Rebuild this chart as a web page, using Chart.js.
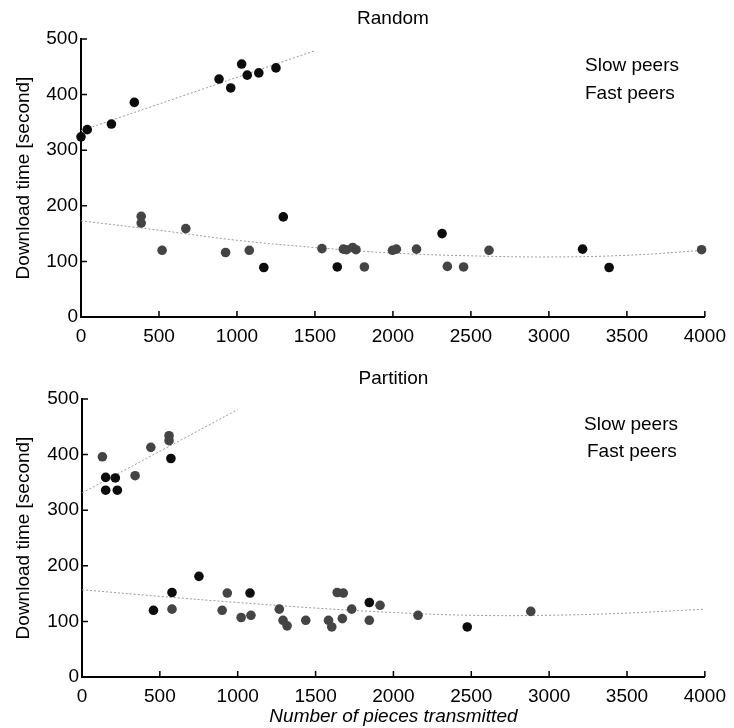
<!DOCTYPE html>
<html>
<head>
<meta charset="utf-8">
<script src="https://cdn.jsdelivr.net/npm/chart.js@4.4.1/dist/chart.umd.min.js"></script>
<style>
  body { margin: 0; background: #fff; }
  canvas { position: absolute; left: 0; }
  #random { top: 0; }
  #partition { top: 360px; }
</style>
</head>
<body>
<canvas id="random" width="734" height="360"></canvas>
<canvas id="partition" width="734" height="368"></canvas>
<script>
// values
const xTicks = [0, 500, 1000, 1500, 2000, 2500, 3000, 3500, 4000];
const yTicks = [0, 100, 200, 300, 400, 500];
const legendLabels = ['Slow peers', 'Fast peers'];

// Random - dark points
const randomSlowX = [0, 40, 195, 342, 885, 960, 1030, 1066, 1140, 1250, 1172, 1297, 1643, 2315, 3216, 3386];
const randomSlowY = [324, 337, 347, 386, 428, 412, 455, 435, 439, 448, 89, 180, 90, 150, 122, 89];
// Random - grey points
const randomFastX = [386, 386, 520, 672, 927, 1079, 1545, 1682, 1703, 1742, 1763, 1817, 1997, 2022, 2151, 2349, 2453, 2616, 3979];
const randomFastY = [181, 169, 120, 159, 116, 120, 123, 122, 121, 125, 121, 90, 120, 122, 122, 91, 90, 120, 121];
// Random - fitted curves
const randomSlowFitX = [0, 1500];
const randomSlowFitY = [335, 479];
const randomFastFitX = [0, 500, 1000, 1500, 2000, 2500, 3000, 3500, 4000];
const randomFastFitY = [173, 156, 138, 125, 115, 110, 108, 111, 120];

// Partition - dark points
const partSlowX = [152, 152, 214, 227, 571, 459, 578, 751, 1079, 1845, 2474];
const partSlowY = [359, 336, 358, 336, 393, 120, 152, 181, 151, 134, 90];
// Partition - grey points
const partFastX = [131, 341, 442, 559, 559, 578, 900, 933, 1022, 1085, 1267, 1291, 1317, 1437, 1583, 1604, 1639, 1678, 1672, 1732, 1845, 1914, 2158, 2882];
const partFastY = [396, 362, 413, 434, 425, 122, 120, 151, 107, 111, 122, 102, 92, 102, 102, 90, 152, 151, 105, 122, 102, 129, 111, 118];
// Partition - fitted curves
const partSlowFitX = [0, 1000];
const partSlowFitY = [331, 481];
const partFastFitX = [0, 500, 1000, 1500, 2000, 2500, 3000, 3500, 4000];
const partFastFitY = [157, 145, 134, 124, 116, 111, 111, 115, 122];

Chart.defaults.font.family = '"Liberation Sans", Arial, sans-serif';
Chart.defaults.font.size = 19;
Chart.defaults.color = '#000';

function toPoints(xs, ys) {
    return xs.map((x, i) => ({x: x, y: ys[i]}));
}

// tick marks pointing into the plot
const innerTicks = {
    id: 'innerTicks',
    afterDraw(chart) {
        const {ctx, chartArea, scales} = chart;
        ctx.save();
        ctx.strokeStyle = '#000';
        ctx.lineWidth = 1.5;
        ctx.beginPath();
        scales.x.ticks.forEach(t => {
            const px = scales.x.getPixelForValue(t.value);
            ctx.moveTo(px, chartArea.bottom);
            ctx.lineTo(px, chartArea.bottom - 6);
        });
        scales.y.ticks.forEach(t => {
            const py = scales.y.getPixelForValue(t.value);
            ctx.moveTo(chartArea.left, py);
            ctx.lineTo(chartArea.left + 6, py);
        });
        ctx.stroke();
        ctx.restore();
    }
};

// legend text only (the figure shows no markers)
const peerLabels = {
    id: 'peerLabels',
    afterDraw(chart, args, opts) {
        const ctx = chart.ctx;
        ctx.save();
        ctx.font = '19px "Liberation Sans", Arial, sans-serif';
        ctx.fillStyle = '#000';
        ctx.textBaseline = 'alphabetic';
        legendLabels.forEach((label, i) => {
            ctx.fillText(label, opts.pos[i][0], opts.pos[i][1]);
        });
        ctx.restore();
    }
};

function draw(chartId, title, slow, fast, slowFit, fastFit, cfg) {
    const dot = (data, color) => ({
        type: 'scatter',
        data: data,
        backgroundColor: color,
        borderColor: color,
        borderWidth: 0,
        pointRadius: 4.8,
        pointHoverRadius: 4.8,
        clip: false,
        order: 1
    });
    const fit = (data) => ({
        type: 'line',
        data: data,
        borderColor: '#9a9a9a',
        borderWidth: 1,
        borderDash: [2, 2],
        pointRadius: 0,
        tension: 0.4,
        fill: false,
        order: 2
    });

    return new Chart(document.getElementById(chartId), {
        type: 'scatter',
        data: {
            datasets: [
                dot(slow, '#0c0c0c'),
                dot(fast, '#444444'),
                fit(slowFit),
                fit(fastFit)
            ]
        },
        options: {
            responsive: false,
            animation: false,
            devicePixelRatio: 1,
            layout: {padding: {left: 0, right: cfg.right, top: 0, bottom: 0}},
            scales: {
                x: {
                    type: 'linear',
                    min: 0,
                    max: 4000,
                    afterBuildTicks: (scale) => { scale.ticks = xTicks.map(v => ({value: v})); },
                    ticks: {padding: 8, maxRotation: 0, autoSkip: false, callback: (v) => String(v)},
                    grid: {display: false, drawTicks: false},
                    border: {color: '#000', width: 2},
                    title: {
                        display: cfg.xTitle,
                        text: 'Number of pieces transmitted',
                        font: {size: 19, style: 'italic'},
                        padding: {top: 2, bottom: 0}
                    },
                    afterFit: (scale) => { scale.height = cfg.xHeight; }
                },
                y: {
                    min: 0,
                    max: 500,
                    afterBuildTicks: (scale) => { scale.ticks = yTicks.map(v => ({value: v})); },
                    ticks: {padding: 3, callback: (v) => String(v)},
                    grid: {display: false, drawTicks: false},
                    border: {color: '#000', width: 2},
                    title: {
                        display: true,
                        text: 'Download time [second]',
                        font: {size: 19},
                        padding: {top: 12, bottom: 0}
                    },
                    afterFit: (scale) => { scale.width = cfg.left; }
                }
            },
            plugins: {
                legend: {display: false},
                tooltip: {enabled: false},
                title: {
                    display: true,
                    text: title,
                    fullSize: false,
                    font: {size: 19, weight: 'normal'},
                    color: '#000',
                    padding: {top: 7, bottom: 9.2}
                },
                peerLabels: {pos: cfg.legendPos}
            }
        },
        plugins: [innerTicks, peerLabels]
    });
}

draw('random', 'Random',
    toPoints(randomSlowX, randomSlowY), toPoints(randomFastX, randomFastY),
    toPoints(randomSlowFitX, randomSlowFitY), toPoints(randomFastFitX, randomFastFitY),
    {left: 81, right: 24, xHeight: 43, xTitle: false, legendPos: [[585, 71], [585, 99]]});

draw('partition', 'Partition',
    toPoints(partSlowX, partSlowY), toPoints(partFastX, partFastY),
    toPoints(partSlowFitX, partSlowFitY), toPoints(partFastFitX, partFastFitY),
    {left: 82, right: 23, xHeight: 51, xTitle: true, legendPos: [[584, 70], [587, 97]]});
</script>
</body>
</html>
